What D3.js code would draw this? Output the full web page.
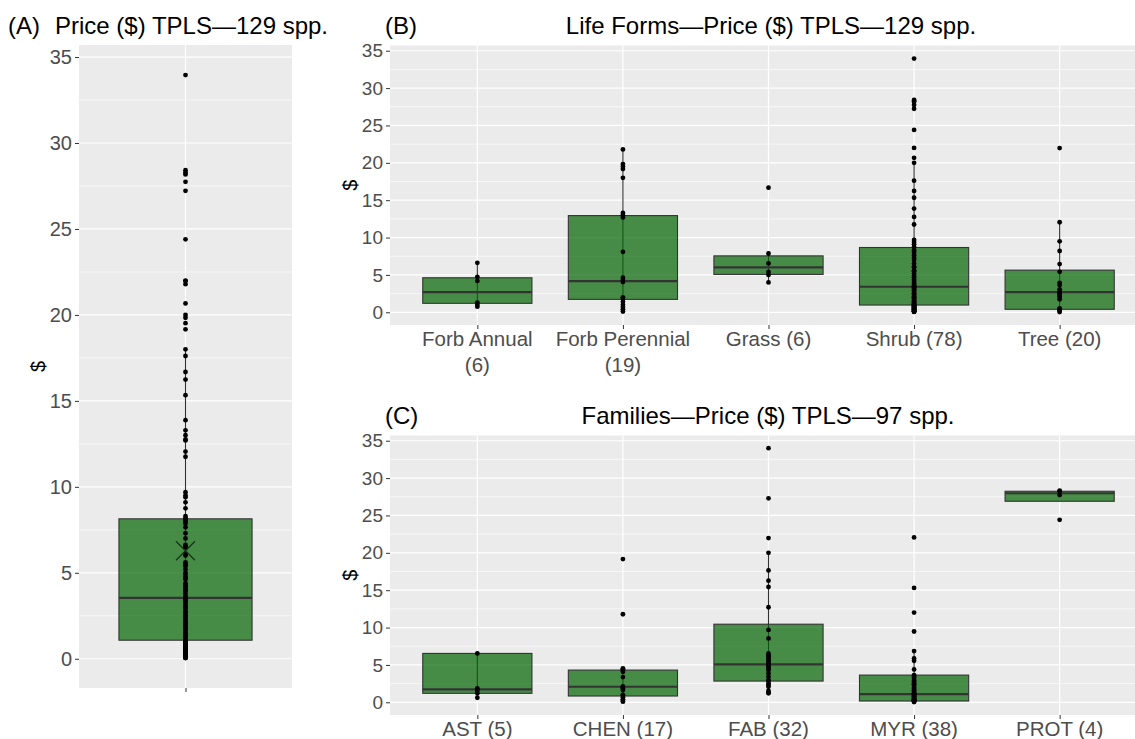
<!DOCTYPE html>
<html>
<head>
<meta charset="utf-8">
<script src="https://cdn.jsdelivr.net/npm/d3@7"></script>
<style>
	body { margin: 0; background: #ffffff; }
	svg { display: block; font-family: "Liberation Sans", Arial, sans-serif; }
</style>
</head>
<body>
<div id="viz"></div>
<script>

// prices ($) per species
var forbAnnual = [6.62, 4.75, 4.2, 1.3, 1.0, 0.75];
var forbPerennial = [21.79, 19.83, 19.52, 19.16, 18.0, 13.29, 13.0, 12.7, 8.09, 4.62, 4.31, 4.04, 2.0, 1.8, 1.4, 1.0, 0.7, 0.4, 0.1];
var grass = [16.68, 7.87, 6.54, 5.4, 5.0, 4.0];
var shrub = [33.95, 28.42, 28.28, 28.17, 27.74, 27.22, 24.4, 22.0, 20.67, 20.0, 17.61, 16.24, 15.33, 13.88, 12.76, 11.75, 9.69, 9.4, 9.1, 8.75,
	8.3, 8.0, 7.65, 7.3, 7.0, 6.5, 6.1, 6.0, 5.6, 5.5, 5.2, 4.9, 4.7, 4.4, 4.2, 3.95, 3.8, 3.6, 3.45,
	3.4, 3.3, 3.2, 3.0, 2.9, 2.7, 2.5, 2.45, 2.3, 2.1, 2.0, 1.9, 1.8, 1.65, 1.5, 1.45, 1.3, 1.2, 1.05, 0.98,
	0.95, 0.88, 0.8, 0.75, 0.7, 0.65, 0.6, 0.52, 0.5, 0.45, 0.4, 0.33, 0.3, 0.22, 0.2, 0.15, 0.12, 0.08, 0.05];
var tree = [21.97, 12.05, 9.5, 8.2, 6.45, 5.42, 3.95, 3.64, 3.07, 2.75, 2.6, 2.44, 2.2, 2.08, 1.73, 0.5, 0.48, 0.3, 0.21, 0.04];

var ast = [6.54, 1.87, 1.55, 1.2, 0.61];
var chen = [19.17, 11.78, 4.54, 4.4, 4.31, 4.09, 3.37, 2.1, 2.08, 1.87, 1.64, 1.0, 0.97, 0.67, 0.4, 0.2, 0.08];
var fab = [34.0, 27.3, 21.97, 20.0, 17.65, 16.27, 15.43, 12.72, 9.69, 8.54,
	6.54, 6.3, 6.09, 5.9, 5.64, 5.4, 5.2, 5.07, 4.9, 4.75, 4.5, 4.31, 3.87, 3.42, 2.97, 2.84, 2.53, 2.3, 2.08, 1.51, 1.3, 1.2];
var myr = [22.06, 15.3, 12.0, 9.47, 6.85, 5.87, 5.55, 4.4, 3.64, 3.5,
	3.3, 3.0, 2.8, 2.55, 2.4, 2.2, 1.95, 1.8, 1.6, 1.5, 1.3, 1.2, 1.1, 1.05, 1.0, 0.9, 0.8, 0.7, 0.6, 0.5, 0.42, 0.35, 0.3, 0.25, 0.18, 0.15, 0.1, 0.03];
var prot = [28.33, 28.21, 27.73, 24.42];

// panel A pools every life form
var allPrices = [].concat(forbAnnual, forbPerennial, grass, shrub, tree);

var lifeFormLabels = ["Forb Annual\n(6)", "Forb Perennial\n(19)", "Grass (6)", "Shrub (78)", "Tree (20)"];
var familyLabels = ["AST (5)", "CHEN (17)", "FAB (32)", "MYR (38)", "PROT (4)"];

// box stats as drawn: [lower whisker, q1, median, q3, upper whisker]
var allStats = [[0.0, 1.08, 3.54, 8.14, 17.94]];
var allMean = [6.28];
var lifeFormStats = [
	[0.75, 1.2, 2.71, 4.62, 6.62],
	[0.1, 1.73, 4.18, 12.94, 21.79],
	[4.0, 5.07, 6.0, 7.55, 7.87],
	[0.05, 0.97, 3.42, 8.67, 20.0],
	[0.04, 0.4, 2.71, 5.64, 12.05]
];
var familyStats = [
	[0.61, 1.2, 1.73, 6.54, 6.54],
	[0.08, 0.84, 2.08, 4.31, 4.54],
	[1.2, 2.84, 5.07, 10.45, 20.0],
	[0.03, 0.17, 1.1, 3.64, 6.85],
	[27.73, 26.9, 27.97, 28.24, 28.33]
];

var majorTicks = [0, 5, 10, 15, 20, 25, 30, 35];
var minorTicks = [2.5, 7.5, 12.5, 17.5, 22.5, 27.5, 32.5];

var svg = d3.select("#viz")
	.append("svg")
	.attr("width", 1135)
	.attr("height", 739);

// draws one ggplot-like boxplot panel
function drawPanel(p){

	var x = d3.scalePoint().domain(p.labels).range([p.left, p.right]).padding(0.6);
	var y = d3.scaleLinear().domain([-1.7, 35.7]).range([p.bottom, p.top]);
	var step = x.step();

	var g = svg.append("g");

	g.append("rect")
		.attr("x", p.left)
		.attr("y", p.top)
		.attr("width", p.right - p.left)
		.attr("height", p.bottom - p.top)
		.attr("fill", "#ebebeb");

	g.selectAll(".minor").data(minorTicks).enter().append("line")
		.attr("x1", p.left).attr("x2", p.right)
		.attr("y1", d => y(d)).attr("y2", d => y(d))
		.attr("stroke", "#ffffff").attr("stroke-width", 0.6);

	g.selectAll(".major").data(majorTicks).enter().append("line")
		.attr("x1", p.left).attr("x2", p.right)
		.attr("y1", d => y(d)).attr("y2", d => y(d))
		.attr("stroke", "#ffffff").attr("stroke-width", 1.2);

	g.selectAll(".vgrid").data(p.labels).enter().append("line")
		.attr("x1", d => x(d)).attr("x2", d => x(d))
		.attr("y1", p.top).attr("y2", p.bottom)
		.attr("stroke", "#ffffff").attr("stroke-width", 1.2);

	// boxes
	p.stats.forEach(function(s, i){

		var cx = x(p.labels[i]);
		var hw = step * 0.75 / 2;

		g.append("line")
			.attr("x1", cx).attr("x2", cx)
			.attr("y1", y(s[0])).attr("y2", y(s[4]))
			.attr("stroke", "#333333").attr("stroke-width", 1.1);

		g.append("rect")
			.attr("x", cx - hw)
			.attr("y", y(s[3]))
			.attr("width", hw * 2)
			.attr("height", y(s[1]) - y(s[3]))
			.attr("fill", "rgb(0,100,0)")
			.attr("fill-opacity", 0.7)
			.attr("stroke", "#333333")
			.attr("stroke-width", 1.1);

		g.append("line")
			.attr("x1", cx - hw).attr("x2", cx + hw)
			.attr("y1", y(s[2])).attr("y2", y(s[2]))
			.attr("stroke", "#333333").attr("stroke-width", 2.2);
	});

	// dots
	p.groups.forEach(function(vals, i){

		var cx = x(p.labels[i]);
		g.selectAll(null).data(vals).enter().append("circle")
			.attr("cx", cx)
			.attr("cy", d => y(d))
			.attr("r", 2.4)
			.attr("fill", "#000000");
	});

	// mean marker (x shape)
	if (p.means){
		p.means.forEach(function(m, i){

			var cx = x(p.labels[i]);
			var cy = y(m);
			var r = 9.5;
			g.append("path")
				.attr("d", "M" + (cx - r) + "," + (cy - r) + "L" + (cx + r) + "," + (cy + r) +
					"M" + (cx - r) + "," + (cy + r) + "L" + (cx + r) + "," + (cy - r))
				.attr("stroke", "#163516")
				.attr("stroke-width", 1.3);
		});
	}

	// axes
	var yAxis = g.append("g")
		.attr("transform", "translate(" + p.left + ",0)")
		.call(d3.axisLeft(y).tickValues(majorTicks).tickSize(4).tickPadding(3));
	yAxis.select(".domain").remove();
	yAxis.selectAll("line").attr("stroke", "#333333");
	yAxis.selectAll("text")
		.attr("fill", "#4d4d4d")
		.style("font-size", p.tickSize + "px")
		.style("font-family", "'Liberation Sans', Arial, sans-serif");

	var xAxis = g.append("g")
		.attr("transform", "translate(0," + p.bottom + ")")
		.call(d3.axisBottom(x).tickSize(4).tickPadding(3).tickFormat(""));
	xAxis.select(".domain").remove();
	xAxis.selectAll("line").attr("stroke", "#333333");

	if (p.showLabels){
		p.labels.forEach(function(lab){

			var t = g.append("text")
				.attr("x", x(lab))
				.attr("y", p.bottom + 21)
				.attr("text-anchor", "middle")
				.attr("fill", "#4d4d4d")
				.style("font-size", "20.5px");
			lab.split("\n").forEach(function(line, k){
				t.append("tspan")
					.attr("x", x(lab))
					.attr("dy", k == 0 ? 0 : 26)
					.text(line);
			});
		});
	}

	// y title
	var ym = (p.top + p.bottom) / 2;
	g.append("text")
		.attr("transform", "translate(" + p.yTitleX + "," + ym + ") rotate(-90)")
		.attr("text-anchor", "middle")
		.attr("fill", "#000000")
		.style("font-size", "20px")
		.text("$");

	// titles
	g.append("text")
		.attr("x", p.tagX)
		.attr("y", p.titleY)
		.attr("fill", "#000000")
		.style("font-size", "24px")
		.text(p.tag);

	g.append("text")
		.attr("x", p.titleX)
		.attr("y", p.titleY)
		.attr("text-anchor", p.titleAnchor)
		.attr("fill", "#000000")
		.style("font-size", "24px")
		.text(p.title);
}

drawPanel({
	left: 79, right: 292, top: 45, bottom: 688,
	labels: [""], groups: [allPrices], stats: allStats, means: allMean,
	showLabels: false, yTitleX: 45, tickSize: 20,
	tag: "(A)", tagX: 8, title: "Price ($) TPLS\u2014129 spp.", titleX: 55, titleAnchor: "start", titleY: 34
});

drawPanel({
	left: 390, right: 1147, top: 45.5, bottom: 325,
	labels: lifeFormLabels, groups: [forbAnnual, forbPerennial, grass, shrub, tree], stats: lifeFormStats,
	showLabels: true, yTitleX: 357, tickSize: 19,
	tag: "(B)", tagX: 385, title: "Life Forms\u2014Price ($) TPLS\u2014129 spp.", titleX: 771, titleAnchor: "middle", titleY: 34
});

drawPanel({
	left: 390, right: 1147, top: 435.5, bottom: 715,
	labels: familyLabels, groups: [ast, chen, fab, myr, prot], stats: familyStats,
	showLabels: true, yTitleX: 357, tickSize: 19,
	tag: "(C)", tagX: 385, title: "Families\u2014Price ($) TPLS\u201497 spp.", titleX: 768, titleAnchor: "middle", titleY: 424
});

</script>
</body>
</html>
